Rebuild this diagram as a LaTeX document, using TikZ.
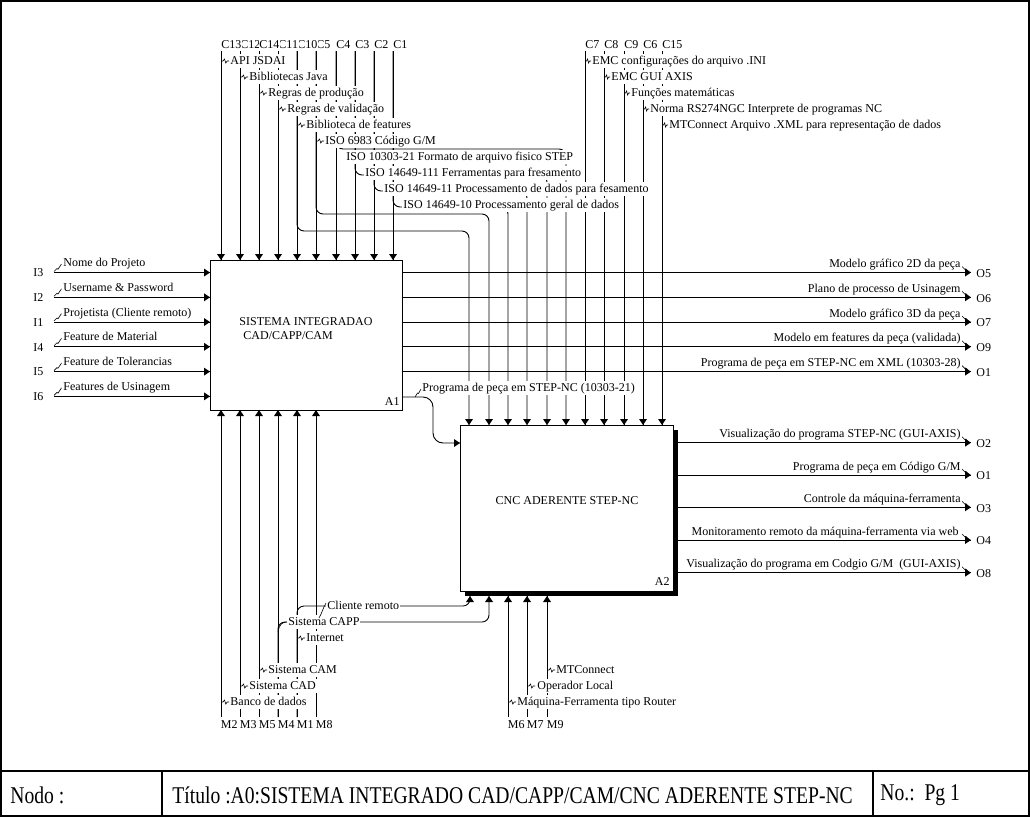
\documentclass[tikz,border=0pt]{standalone}
\usepackage{graphicx}
\usepackage{fontspec}
\setmainfont{Liberation Serif}
\tikzset{
  ahd/.pic={\fill (0,0) -- (-4,-6) -- (4,-6) -- cycle;},
  ahu/.pic={\fill (0,0) -- (-4,6) -- (4,6) -- cycle;},
  ahr/.pic={\fill (0,0) -- (-6,-4) -- (-6,4) -- cycle;},
  tl/.pic={\draw[line width=0.6pt] (0,0) -- (2,0) -- (3.5,-2) -- (4.8,2) -- (6.2,0) -- (8,0);},
  sqi/.pic={\draw[line width=0.6pt] (0,-1) -- (3,-4) -- (4,-3.3) -- (7.5,-8.5);},
  sqo/.pic={\draw[line width=0.6pt] (0,-6) -- (3,-3) -- (3.8,-3.6) -- (6.5,-1);},
  lbl/.style={fill=white,inner xsep=1pt,inner ysep=1pt,text height=9pt,text depth=3pt,anchor=west},
  lblr/.style={lbl,anchor=east},
  tagw/.style={anchor=west,inner sep=0pt},
  ctag/.style={anchor=west,fill=white,inner xsep=0.5pt,inner ysep=1pt},
  box/.style={draw,fill=white,anchor=north west,inner sep=0pt},
  rc/.style={rounded corners=7pt},
  ttl/.style={anchor=west,inner sep=0pt,font=\fontsize{24}{26}\selectfont},
}
\newcommand{\ttlsc}[1]{\scalebox{0.817}[1]{#1}}
\begin{document}
\begin{tikzpicture}[x=1pt,y=-1pt,line width=0.9pt,every node/.style={font=\fontsize{12}{14}\selectfont}]
\useasboundingbox (0,0) rectangle (1030,817);

% ---------- boxes ----------
\node[box,minimum width=192pt,minimum height=150pt] (A1) at (210,260) {};
\fill (465,430) rectangle (678,596);
\node[box,minimum width=213pt,minimum height=166pt] (A2) at (460,425) {};
\coordinate (A2se) at (678,596);
\node[tagw] (t1a) at (239,322) {SISTEMA INTEGRADAO};
\node[tagw] (t1b) at (243,336) {CAD/CAPP/CAM};
\node[anchor=east,inner sep=0pt] (n1) at (400,402) {A1};
\node[inner sep=0pt] (t2) at (567,501) {CNC ADERENTE STEP-NC};
\node[anchor=east,inner sep=0pt] (n2) at (670,582) {A2};

% ---------- controls of A1 ----------
\foreach \x/\n in {221/C13,240/C12,259/C14,278/C11,297/C10,316/C5,336/C4,355/C3,374/C2,393/C1} {
  \coordinate (top\n) at (\x,51);
  \draw (top\n) -- (top\n |- A1.north);
  \pic at (\x,260) {ahd};
}
% ---------- controls of A2 ----------
\foreach \x/\n in {585/C7,604/C8,624/C9,643/C6,662/C15} {
  \coordinate (top\n) at (\x,51);
  \draw (top\n) -- (top\n |- A2.north);
}
\foreach \x in {469,489,508,527,547,566,585,604,624,643,662} {
  \pic at (\x,425) {ahd};
}
% branches of A1 controls to A2
\draw[rc] (topC10) -- (297,231) -- (469,231) -- (469,425);
\draw[rc] (topC5) -- (316,214) -- (489,214) -- (489,425);
\draw[rc] (topC1) -- (393,207) -- (508,207) -- (508,425);
\draw[rc] (topC2) -- (374,191) -- (527,191) -- (527,425);
\draw[rc] (topC3) -- (355,175) -- (547,175) -- (547,425);
\draw[rc] (topC4) -- (336,149) -- (566,149) -- (566,425);

% ---------- inputs ----------
\coordinate (i3) at (54,272.5);
\coordinate (i2) at (54,297.3);
\coordinate (i1) at (54,322);
\coordinate (i4) at (54,346.8);
\coordinate (i5) at (54,371.6);
\coordinate (i6) at (54,396.4);
\foreach \c in {i3,i2,i1,i4,i5,i6} {
  \draw (\c) -- (\c -| A1.west);
  \pic at (\c -| 210,0) {ahr};
  \pic at (\c) {sqi};
}
\node[tagw] (ti3) at (33,273) {I3};
\node[tagw] (ti2) at (33,297.8) {I2};
\node[tagw] (ti1) at (33,322.5) {I1};
\node[tagw] (ti4) at (33,347.3) {I4};
\node[tagw] (ti5) at (33,372.1) {I5};
\node[tagw] (ti6) at (33,396.9) {I6};
\node[lbl] (li3) at (62,263.5) {Nome do Projeto};
\node[lbl] (li2) at (62,288.3) {Username \& Password};
\node[lbl] (li1) at (62,313) {Projetista (Cliente remoto)};
\node[lbl] (li4) at (62,337.8) {Feature de Material};
\node[lbl] (li5) at (62,362.6) {Feature de Tolerancias};
\node[lbl] (li6) at (62,387.4) {Features de Usinagem};

% ---------- outputs of A1 ----------
\coordinate (o5) at (971,272.5);
\coordinate (o6) at (971,297.3);
\coordinate (o7) at (971,322);
\coordinate (o9) at (971,346.8);
\coordinate (o1a) at (971,371.6);
\foreach \c in {o5,o6,o7,o9,o1a} {
  \draw (\c -| A1.east) -- (\c);
  \pic at (\c) {ahr};
  \pic at (\c -| 962,0) {sqo};
}
\node[lblr] (lo5) at (962,264.5) {Modelo gráfico 2D da peça};
\node[lblr] (lo6) at (962,289.3) {Plano de processo de Usinagem};
\node[lblr] (lo7) at (962,314) {Modelo gráfico 3D da peça};
\node[lblr] (lo9) at (962,338.8) {Modelo em features da peça (validada)};
\node[lblr] (lo1a) at (962,363.6) {Programa de peça em STEP-NC em XML (10303-28)};
\node[tagw] (to5) at (976,273.5) {O5};
\node[tagw] (to6) at (976,298.3) {O6};
\node[tagw] (to7) at (976,323) {O7};
\node[tagw] (to9) at (976,347.8) {O9};
\node[tagw] (to1a) at (976,372.6) {O1};

% ---------- A1 -> A2 ----------
\coordinate (a1out) at (402,397);
\coordinate (a2in) at (460,443);
\draw[rounded corners=10pt] (a1out) -- (433,397) -- (433,443) -- (a2in);
\pic at (a2in) {ahr};
\node[lbl] (lprog) at (421,388) {Programa de peça em STEP-NC (10303-21)};
\draw[line width=0.6pt] (415,397) -- (417.5,393) -- (418.5,393.5) -- (421,389);

% ---------- outputs of A2 ----------
\coordinate (o2) at (971,442.7);
\coordinate (o1b) at (971,475);
\coordinate (o3) at (971,507.3);
\coordinate (o4) at (971,540);
\coordinate (o8) at (971,572.7);
\foreach \c in {o2,o1b,o3,o4,o8} {
  \draw (\c -| A2se) -- (\c);
  \pic at (\c) {ahr};
  \pic at (\c -| 962,0) {sqo};
}
\node[lblr] (lo2) at (962,434.7) {Visualização do programa STEP-NC (GUI-AXIS)};
\node[lblr] (lo1b) at (962,467) {Programa de peça em Código G/M};
\node[lblr] (lo3) at (962,499.3) {Controle da máquina-ferramenta};
\node[lblr] (lo4) at (960,532) {Monitoramento remoto da máquina-ferramenta via web};
\node[lblr] (lo8) at (962,564.7) {Visualização do programa em Codgio G/M\ \ (GUI-AXIS)};
\node[tagw] (to2) at (976,443.7) {O2};
\node[tagw] (to1b) at (976,476) {O1};
\node[tagw] (to3) at (976,508.3) {O3};
\node[tagw] (to4) at (976,541) {O4};
\node[tagw] (to8) at (976,573.7) {O8};

% ---------- mechanisms of A1 ----------
\foreach \x/\n in {221/M2,240/M3,259/M5,278/M4,297/M1,316/M8} {
  \coordinate (bot\n) at (\x,717);
  \draw (bot\n) -- (bot\n |- A1.south);
  \pic at (\x,410) {ahu};
  \node[tagw] (tag\n) at (\x-0.5,724.5) {\n};
}
% ---------- mechanisms of A2 ----------
\foreach \x/\n in {508/M6,527/M7,547/M9} {
  \coordinate (bot\n) at (\x,717);
  \draw (bot\n) -- (bot\n |- A2se);
  \pic at (\x,596) {ahu};
  \node[tagw] (tag\n) at (\x-0.5,724.5) {\n};
}
\draw[rc] (botM1) -- (297,606) -- (470,606) -- (470,596);
\draw[rc] (botM4) -- (278,622) -- (489,622) -- (489,596);
\pic at (470,596) {ahu};
\pic at (489,596) {ahu};

% ---------- labels of controls (opaque) ----------
\foreach \x/\n in {393/C1,374/C2,355/C3,336/C4,316/C5,297/C10,278/C11,240/C12,259/C14,221/C13} {
  \node[ctag] (tag\n) at (\x-0.5,45) {\n};
}
\foreach \x/\n in {662/C15,643/C6,624/C9,604/C8,585/C7} {
  \node[ctag] (tag\n) at (\x-0.5,45) {\n};
}
\node[lbl] (lapi) at (229,61) {API JSDAI};
\node[lbl] (lbj) at (248,77) {Bibliotecas Java};
\node[lbl] (lrp) at (267,93) {Regras de produção};
\node[lbl] (lrv) at (286,109) {Regras de validação};
\node[lbl] (lbf) at (305,125) {Biblioteca de features};
\node[lbl] (liso1) at (324,141) {ISO 6983 Código G/M};
\node[lbl] (liso2) at (345,157) {ISO 10303-21 Formato de arquivo fisico STEP};
\node[lbl] (liso3) at (364,173) {ISO 14649-111 Ferramentas para fresamento};
\node[lbl] (liso4) at (383,189) {ISO 14649-11 Processamento de dados para fesamento};
\node[lbl] (liso5) at (402,205) {ISO 14649-10 Processamento geral de dados};
\foreach \x/\y in {221/61,240/77,259/93,278/109,297/125,316/141} {
  \pic at (\x,\y) {tl};
}
\node[lbl] (lemc) at (591,61) {EMC configurações do arquivo .INI};
\node[lbl] (lgui) at (610,77) {EMC GUI AXIS};
\node[lbl] (lfm) at (630,93) {Funções matemáticas};
\node[lbl] (lrs) at (649,109) {Norma RS274NGC Interprete de programas NC};
\node[lbl] (lmtx) at (668,125) {MTConnect Arquivo .XML para representação de dados};
\foreach \x/\y in {585/61,604/77,624/93,643/109,662/125} {
  \pic[xscale=0.75] at (\x,\y) {tl};
}

% ---------- labels of mechanisms (opaque) ----------
\node[lbl] (lbd) at (229,702) {Banco de dados};
\node[lbl] (lcad) at (248,686) {Sistema CAD};
\node[lbl] (lcam) at (267,670) {Sistema CAM};
\node[lbl] (lint) at (305,638) {Internet};
\node[lbl] (lcapp) at (287,622) {Sistema CAPP};
\node[lbl] (lcli) at (326,606) {Cliente remoto};
\foreach \x/\y in {221/702,240/686,259/670,297/638} {
  \pic at (\x,\y) {tl};
}
\draw[line width=0.6pt] (278,632) .. controls (279,625) and (282,622) .. (287,622);
\draw[line width=0.6pt] (326,603) .. controls (323,608) and (322,613) .. (319,618);
\node[lbl] (lmtc) at (555,670) {MTConnect};
\node[lbl] (lop) at (536,686) {Operador Local};
\node[lbl] (lmaq) at (516,702) {Máquina-Ferramenta tipo Router};
\foreach \x/\y in {547/670,527/686,508/702} {
  \pic at (\x,\y) {tl};
}

% ---------- frame and title block ----------
\draw[line width=2pt] (1,1) rectangle (1029,816);
\draw[line width=2pt] (0,771) -- (1030,771);
\draw[line width=2pt] (162,771) -- (162,817);
\draw[line width=2pt] (873,771) -- (873,817);
\node[ttl] (nodo) at (10,795) {\ttlsc{Nodo :}};
\node[ttl] (titulo) at (172,795) {\ttlsc{Título :A0:SISTEMA INTEGRADO CAD/CAPP/CAM/CNC ADERENTE STEP-NC}};
\node[ttl] (pg) at (880,795) {\ttlsc{No.:\ \ Pg 1}};
\end{tikzpicture}
\end{document}
